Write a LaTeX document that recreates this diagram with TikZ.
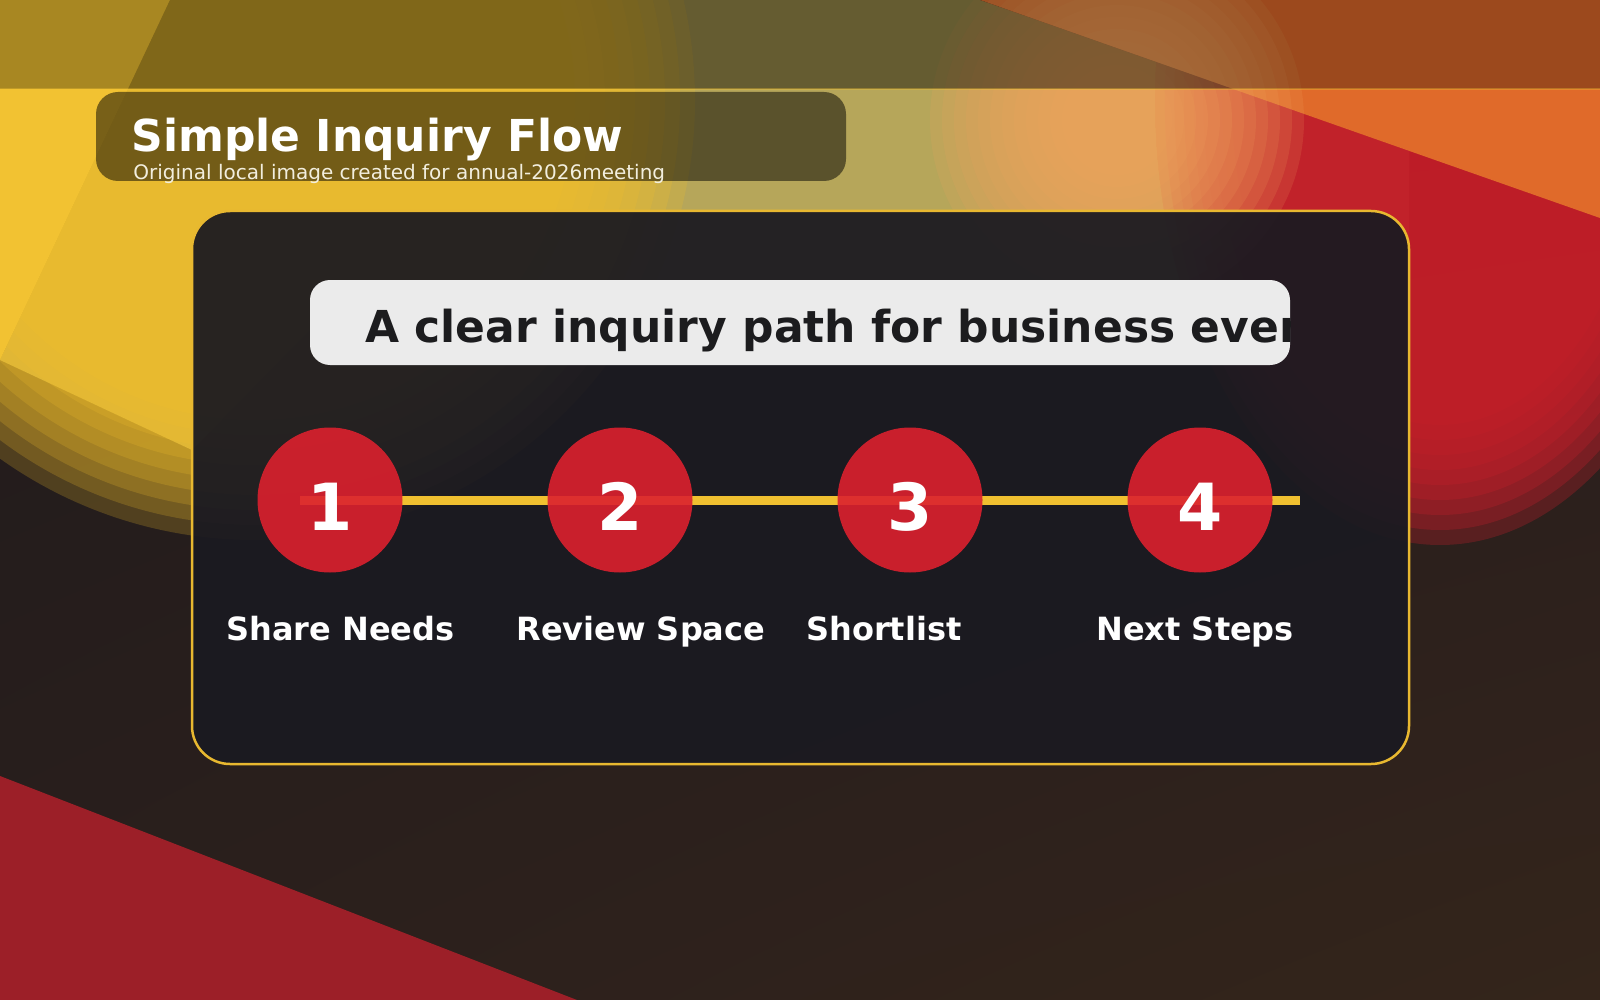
\documentclass[tikz,border=0pt]{standalone}
\usepackage{fontspec}
\setmainfont{DejaVu Sans}
\usetikzlibrary{calc, positioning, shadings}

\definecolor{bgtl}     {RGB}{ 30,  26,  28}
\definecolor{bgtr}     {RGB}{ 36,  27,  30}
\definecolor{bgbl}     {RGB}{ 42,  31,  28}
\definecolor{bgbr}     {RGB}{ 52,  37,  27}
\definecolor{khaki}    {RGB}{182, 166,  90}
\definecolor{ylw}      {RGB}{240, 190,  44}
\definecolor{ylwbright}{RGB}{242, 194,  50}
\definecolor{redbig}   {RGB}{196,  30,  42}
\definecolor{orng}     {RGB}{224, 106,  42}
\definecolor{glow}     {RGB}{240, 162,  92}
\definecolor{redlow}   {RGB}{156,  31,  40}
\definecolor{card}     {RGB}{ 27,  26,  33}
\definecolor{cardline} {RGB}{232, 184,  48}
\definecolor{banner}   {RGB}{235, 235, 235}
\definecolor{headdark} {RGB}{ 28,  28,  30}
\definecolor{subwhite} {RGB}{242, 238, 222}
\definecolor{stepred}  {RGB}{220,  32,  46}
\definecolor{lineylw}  {RGB}{240, 192,  48}

\begin{document}
\begin{tikzpicture}[x=0.5pt, y=-0.5pt,
		titletxt/.style={font=\bfseries\fontsize{22}{26}\selectfont, text=white, inner sep=0pt, anchor=base west},
		subtxt/.style={font=\fontsize{10}{12}\selectfont, text=subwhite, inner sep=0pt, anchor=base west},
		headtxt/.style={font=\bfseries\fontsize{22}{26}\selectfont, text=headdark, inner sep=0pt, anchor=base west},
		stepdot/.style={circle, fill=stepred, fill opacity=0.9, minimum size=72.5pt, inner sep=0pt},
		stepnum/.style={font=\bfseries\fontsize{32.5}{36}\selectfont, text=white, inner sep=0pt, anchor=base},
		steplbl/.style={font=\bfseries\fontsize{16}{19}\selectfont, text=white, inner sep=0pt, anchor=base west},
		flowline/.style={draw=lineylw, line width=4.5pt}
	]
	\useasboundingbox (0,0) rectangle (1600,1000);
	\clip (0,0) rectangle (1600,1000);
	% background
	\shade[upper left=bgtl, upper right=bgtr, lower left=bgbl, lower right=bgbr] (0,0) rectangle (1600,1000);
	\fill[khaki] (170,0)--(980,0)--(1409,151)--(1409,330)--(310,330)--(192,450)--(0,360)--cycle;
	\foreach \r in {440,425,...,320} \fill[ylw, fill opacity=0.22] (255,100) circle[radius=\r];
	\fill[ylwbright] (0,0)--(170,0)--(0,360)--cycle;
	\begin{scope}[shift={(1440,100)}, xscale=0.64]
		\foreach \r in {445,430,...,325} \fill[redbig, fill opacity=0.3] (0,0) circle[radius=\r];
	\end{scope}
	\fill[orng] (980,0)--(1600,0)--(1600,218)--cycle;
	\foreach \r in {187,175,...,55} \fill[glow, fill opacity=0.16] (1117,120) circle[radius=\r];
	\fill[redlow] (0,776)--(577,1000)--(0,1000)--cycle;
	% top band
	\fill[black, fill opacity=0.3] (0,0) rectangle (1600,89);
	\fill[black, fill opacity=0.2] (170,0)--(980,0)--(1233,89)--(128,89)--cycle;
	\draw[ylwbright, draw opacity=0.35, line width=0.6pt] (0,89) -- (1600,89);
	% title
	\fill[black, fill opacity=0.5, rounded corners=11pt] (96,92) rectangle (846,181);
	\node[titletxt] (title) at (131,152) {Simple Inquiry Flow};
	\node[subtxt] (subtitle) at (133,180) {Original local image created for annual-2026meeting};
	% card
	\fill[card, fill opacity=0.94, rounded corners=19pt] (192,211) rectangle (1409,764);
	\draw[cardline, line width=1.25pt, rounded corners=19pt] (192,211) rectangle (1409,764);
	\fill[banner, rounded corners=10pt] (310,280) rectangle (1290,365);
	\begin{scope}
		\clip[rounded corners=10pt] (310,280) rectangle (1290,365);
		\node[headtxt] (headline) at (365,343) {A clear inquiry path for business events};
	\end{scope}
	% steps
	\coordinate (lineL) at (300,500);
	\coordinate (lineR) at (1300,500);
	\draw[flowline] (lineL) -- (lineR);
	\foreach \i/\x/\txt in {1/330/Share Needs, 2/620/Review Space, 3/910/Shortlist, 4/1200/Next Steps}{
		\node[stepdot] (s\i) at (\x,500) {};
		\node[stepnum] (n\i) at (\x,530) {\i};
		\node[steplbl] (l\i) at ($(s\i)+(-104,140)$) {\txt};
	}
\end{tikzpicture}
\end{document}
